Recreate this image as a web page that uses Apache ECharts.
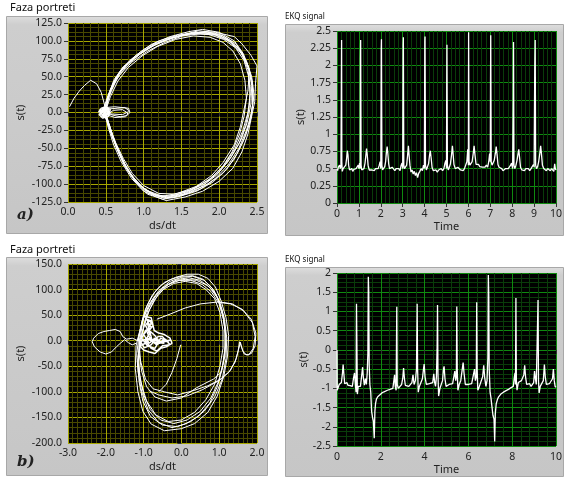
<!DOCTYPE html>
<html><head><meta charset="utf-8">
<script src="https://cdn.jsdelivr.net/npm/echarts@6/dist/echarts.min.js"></script>
<style>html,body{margin:0;padding:0;background:#fff;}#c{width:568px;height:478px;}</style>
</head><body><div id="c"></div>
<script>
// ---------- Panel a) phase portrait loops [ds/dt, s(t)] ----------
const phaseA1 = [[0.02,8],[0.08,20],[0.15,30],[0.22,38],[0.3,45],[0.38,40],[0.44,28],[0.48,12],[0.5,2],[0.53,18],[0.58,36],[0.68,56],[0.82,73],[1.0,88],[1.2,100],[1.45,108],[1.7,112],[1.9,110],[2.1,103],[2.25,90],[2.36,72],[2.43,50],[2.46,25],[2.43,0],[2.36,-25],[2.26,-50],[2.12,-73],[1.95,-92],[1.75,-107],[1.5,-116],[1.28,-120],[1.05,-112],[0.88,-95],[0.74,-72],[0.64,-48],[0.56,-25],[0.5,-5]];
const phaseA2 = [[0.5,-5],[0.48,3],[0.55,5],[0.65,6],[0.75,7],[0.8,3],[0.78,-4],[0.7,-6],[0.6,-4],[0.5,0],[0.52,20],[0.6,42],[0.72,62],[0.9,80],[1.1,95],[1.35,106],[1.6,113],[1.78,116],[2.0,112],[2.2,100],[2.32,82],[2.4,60],[2.38,30],[2.33,5],[2.28,-20],[2.2,-45],[2.05,-70],[1.9,-88],[1.7,-103],[1.45,-113],[1.25,-117],[1.02,-108],[0.85,-90],[0.72,-68],[0.62,-42],[0.55,-18],[0.47,-2]];
const phaseA3 = [[0.47,-2],[0.42,4],[0.44,-6],[0.52,-3],[0.6,3],[0.72,4],[0.78,0],[0.72,-3],[0.56,-2],[0.5,8],[0.55,28],[0.63,48],[0.76,66],[0.95,82],[1.15,96],[1.4,105],[1.65,111],[1.85,112],[2.05,107],[2.22,96],[2.32,80],[2.4,58],[2.44,35],[2.44,10],[2.4,-15],[2.32,-40],[2.2,-65],[2.05,-85],[1.85,-100],[1.6,-112],[1.38,-119],[1.18,-117],[0.98,-104],[0.82,-85],[0.7,-62],[0.6,-38],[0.52,-14],[0.46,2]];
const phaseA4 = [[0.46,2],[0.5,15],[0.56,32],[0.66,52],[0.8,70],[1.0,86],[1.25,100],[1.5,108],[1.72,114],[1.95,112],[2.2,106],[2.3,96],[2.42,80],[2.5,65],[2.48,40],[2.47,15],[2.42,-10],[2.38,-30],[2.3,-55],[2.18,-78],[2.0,-96],[1.78,-110],[1.55,-118],[1.3,-123],[1.22,-120],[1.0,-110],[0.84,-92],[0.7,-68],[0.6,-44],[0.53,-20],[0.49,0]];
const phaseA5 = [[0.49,0],[0.56,22],[0.66,44],[0.8,63],[0.98,79],[1.18,92],[1.42,102],[1.66,107],[1.88,105],[2.05,98],[2.18,86],[2.28,68],[2.34,45],[2.36,20],[2.33,-5],[2.27,-30],[2.17,-55],[2.03,-78],[1.85,-95],[1.62,-108],[1.4,-114],[1.2,-113],[1.0,-102],[0.85,-85],[0.73,-64],[0.63,-42],[0.55,-20],[0.5,-3]];
const phaseA6 = [[0.5,-3],[0.45,5],[0.5,7],[0.62,8],[0.8,6],[0.82,0],[0.76,-6],[0.62,-7],[0.48,-2],[0.5,12],[0.57,32],[0.68,52],[0.84,70],[1.04,85],[1.28,98],[1.52,107],[1.75,110],[1.95,108],[2.12,100],[2.27,86],[2.38,66],[2.44,42],[2.45,18],[2.42,-8],[2.35,-32],[2.24,-57],[2.1,-79],[1.92,-97],[1.7,-110],[1.45,-118],[1.25,-121],[1.05,-114],[0.9,-98],[0.76,-76],[0.65,-52],[0.57,-28],[0.5,-6]];
const phaseA7 = [[0.5,-6],[0.43,-3],[0.42,3],[0.46,6],[0.55,2],[0.5,10],[0.54,26],[0.61,46],[0.73,64],[0.9,78],[1.1,92],[1.32,103],[1.58,110],[1.82,113],[2.02,109],[2.17,99],[2.3,84],[2.39,62],[2.43,38],[2.42,12],[2.37,-14],[2.29,-38],[2.16,-62],[2.0,-83],[1.8,-100],[1.57,-111],[1.35,-117],[1.14,-115],[0.95,-102],[0.8,-82],[0.68,-58],[0.58,-32],[0.52,-10],[0.5,0]];
const phaseA8 = [[0.5,0],[0.53,22],[0.6,40],[0.7,58],[0.86,75],[1.06,90],[1.3,101],[1.55,109],[1.8,111],[2.0,108],[2.16,98],[2.3,82],[2.38,60],[2.41,36],[2.4,10],[2.35,-18],[2.26,-44],[2.12,-68],[1.96,-88],[1.76,-104],[1.52,-114],[1.3,-119],[1.1,-113],[0.92,-99],[0.78,-78],[0.67,-54],[0.58,-30],[0.52,-8],[0.48,0]];
const phaseA9 = [[0.48,0],[0.55,24],[0.64,46],[0.78,66],[0.96,82],[1.16,95],[1.4,105],[1.64,110],[1.86,109],[2.06,102],[2.22,90],[2.33,72],[2.39,50],[2.41,26],[2.38,0],[2.31,-26],[2.21,-50],[2.07,-73],[1.89,-92],[1.67,-106],[1.44,-115],[1.24,-118],[1.04,-110],[0.87,-92],[0.74,-70],[0.64,-46],[0.56,-22],[0.5,-2]];
const phaseABlob = [[0.4,0],[0.44,6],[0.5,8],[0.56,4],[0.54,-5],[0.46,-8],[0.41,-3],[0.45,2],[0.52,5],[0.55,0],[0.5,-4],[0.44,-2],[0.48,3],[0.53,1],[0.47,-6],[0.42,2],[0.49,6],[0.55,-3],[0.45,-4],[0.5,1]];

// ---------- Panel b) phase portrait loops ----------
const phaseB1 = [[-1.05,35],[-0.95,62],[-0.78,88],[-0.55,108],[-0.28,120],[0.0,126],[0.3,127],[0.58,120],[0.8,104],[0.98,80],[1.1,50],[1.16,15],[1.15,-20],[1.08,-55],[0.95,-90],[0.75,-122],[0.45,-148],[0.1,-163],[-0.25,-170],[-0.6,-160],[-0.88,-135],[-1.05,-100],[-1.15,-60],[-1.18,-25],[-1.12,10],[-1.05,35]];
const phaseB2 = [[-1.05,35],[-0.9,70],[-0.7,96],[-0.45,114],[-0.15,124],[0.15,130],[0.45,130],[0.7,122],[0.9,105],[1.05,78],[1.18,45],[1.25,10],[1.22,-30],[1.12,-70],[0.95,-108],[0.7,-140],[0.35,-162],[0.0,-172],[-0.45,-176],[-0.8,-163],[-1.02,-138],[-1.15,-100],[-1.22,-55],[-1.2,-10],[-1.1,20]];
const phaseB3 = [[-1.1,20],[-0.95,55],[-0.75,82],[-0.5,103],[-0.2,116],[0.1,120],[0.4,118],[0.7,108],[0.92,90],[1.0,75],[1.3,72],[1.6,62],[1.85,42],[1.97,15],[1.95,-10],[1.85,-25],[1.72,-28],[1.62,-20],[1.56,-3],[1.52,-15],[1.45,-35],[1.3,-58],[1.05,-75],[0.7,-88],[0.3,-98],[-0.1,-106],[-0.45,-100],[-0.75,-94],[-0.95,-75],[-1.08,-40],[-1.12,-5],[-1.0,25]];
const phaseB4 = [[-1.0,25],[-0.85,60],[-0.62,90],[-0.35,110],[-0.05,118],[0.25,118],[0.55,110],[0.8,95],[1.0,72],[1.12,40],[1.18,5],[1.15,-30],[1.05,-62],[0.85,-75],[0.4,-92],[0.0,-112],[-0.4,-118],[-0.7,-110],[-0.92,-90],[-1.05,-60],[-1.12,-25],[-1.05,10]];
const phaseB5 = [[-1.05,10],[-0.92,48],[-0.72,80],[-0.48,100],[-0.2,112],[0.1,116],[0.4,112],[0.65,100],[0.88,82],[1.02,55],[1.1,20],[1.1,-15],[1.02,-50],[0.88,-85],[0.65,-115],[0.35,-140],[0.0,-155],[-0.35,-158],[-0.68,-145],[-0.92,-118],[-1.08,-80],[-1.15,-40],[-1.1,0]];
const phaseB6 = [[-1.1,0],[-1.02,40],[-0.85,72],[-0.6,98],[-0.3,116],[0.0,124],[0.3,126],[0.6,118],[0.85,100],[1.02,75],[1.14,42],[1.2,5],[1.18,-35],[1.08,-75],[0.88,-110],[0.6,-138],[0.25,-158],[-0.1,-168],[-0.5,-165],[-0.82,-148],[-1.02,-118],[-1.12,-80],[-1.15,-40],[-1.08,-5]];
const phaseB7 = [[-0.65,42],[-0.3,52],[0.1,64],[0.5,72],[1.0,76],[1.35,72],[1.65,58],[1.88,35],[1.95,8],[1.9,-15],[1.78,-28],[1.66,-26],[1.58,-10],[1.54,-2],[1.5,-20],[1.42,-42],[1.25,-62],[0.95,-80],[0.55,-96],[0.15,-108],[-0.25,-112],[-0.6,-106],[-0.85,-98]];
const phaseB8 = [[-1.08,-5],[-1.0,30],[-0.88,62],[-0.68,88],[-0.4,108],[-0.1,120],[0.2,123],[0.5,118],[0.75,104],[0.95,84],[1.08,58],[1.15,25],[1.16,-10],[1.1,-45],[0.98,-80],[0.78,-112],[0.5,-138],[0.15,-155],[-0.2,-162],[-0.55,-155],[-0.82,-135],[-1.0,-105],[-1.1,-68],[-1.14,-30],[-1.1,5]];
const phaseBBlob = [[-1.15,0],[-1.0,48],[-0.8,45],[-0.72,20],[-0.6,15],[-0.45,12],[-0.3,5],[-0.25,-5],[-0.4,-12],[-0.55,-15],[-0.7,-25],[-0.85,-22],[-1.0,-18],[-1.1,-10],[-0.95,-5],[-0.8,8],[-0.95,30],[-0.85,40],[-0.75,30],[-0.9,15],[-0.8,0],[-0.65,-8],[-0.5,0],[-0.35,-2],[-0.55,5],[-0.7,-15],[-0.9,-10],[-1.05,5],[-0.95,20],[-0.8,25],[-0.92,42],[-0.78,38],[-0.88,22],[-1.0,12],[-0.85,-5],[-0.7,5],[-0.58,-5],[-0.42,3],[-0.3,-8],[-0.5,-10],[-0.65,-20],[-0.8,-15],[-0.95,0],[-0.82,18],[-0.7,10],[-0.6,0],[-0.45,-5],[-0.75,-3],[-0.9,5],[-1.08,-2],[-0.98,-14],[-0.8,-8],[-0.62,8],[-0.5,8],[-0.38,-2],[-0.28,2],[-0.52,-3],[-0.78,2],[-0.9,35],[-0.82,30]];
const phaseBTail = [[-1.15,0],[-1.3,5],[-1.45,3],[-1.55,8],[-1.62,18],[-1.75,22],[-1.9,20],[-2.05,18],[-2.2,14],[-2.32,5],[-2.36,-2],[-2.3,-12],[-2.15,-22],[-2.0,-26],[-1.85,-22],[-1.72,-12],[-1.6,-4],[-1.5,2],[-1.4,-4],[-1.3,-8],[-1.2,-5]];
const phaseBLine = [[-0.02,-8],[-0.12,-35],[-0.25,-62],[-0.4,-85],[-0.6,-100]];

// ---------- EKQ signal (top) [time, s(t)] ----------
const ekgTop = [[0,0.5],[0.03,0.47],[0.06,0.52],[0.09,0.5],[0.12,0.55],[0.15,0.5],[0.18,0.53],[0.2,1.85],[0.21,2.37],[0.22,0.6],[0.24,0.46],[0.28,0.5],[0.32,0.52],[0.36,0.5],[0.4,0.55],[0.44,0.65],[0.47,0.76],[0.5,0.7],[0.53,0.55],[0.57,0.48],[0.62,0.47],[0.67,0.5],[0.72,0.46],[0.77,0.49],[0.82,0.47],[0.87,0.5],[0.92,0.48],[0.97,0.55],[1.0,0.5],[1.03,0.58],[1.06,0.5],[1.07,2.1],[1.08,2.37],[1.1,0.55],[1.13,0.48],[1.18,0.5],[1.23,0.5],[1.28,0.58],[1.32,0.7],[1.35,0.79],[1.38,0.7],[1.42,0.55],[1.47,0.48],[1.52,0.5],[1.58,0.48],[1.64,0.5],[1.7,0.47],[1.76,0.5],[1.82,0.48],[1.88,0.5],[1.93,0.55],[1.97,0.6],[2.0,0.5],[2.02,2.25],[2.03,2.38],[2.05,0.55],[2.08,0.48],[2.13,0.5],[2.18,0.53],[2.22,0.6],[2.26,0.75],[2.29,0.82],[2.32,0.72],[2.36,0.57],[2.4,0.5],[2.46,0.48],[2.52,0.52],[2.58,0.5],[2.64,0.47],[2.7,0.5],[2.76,0.52],[2.82,0.5],[2.88,0.47],[2.93,0.55],[2.97,0.58],[3.0,0.5],[3.02,2.3],[3.03,2.41],[3.05,0.55],[3.08,0.5],[3.13,0.52],[3.18,0.55],[3.22,0.68],[3.26,0.83],[3.29,0.7],[3.33,0.55],[3.38,0.45],[3.43,0.48],[3.48,0.42],[3.53,0.46],[3.58,0.4],[3.63,0.44],[3.68,0.37],[3.73,0.43],[3.78,0.46],[3.84,0.5],[3.9,0.47],[3.95,0.55],[3.99,0.5],[4.01,2.35],[4.02,2.42],[4.04,0.55],[4.08,0.48],[4.13,0.5],[4.18,0.57],[4.22,0.68],[4.26,0.76],[4.3,0.65],[4.34,0.52],[4.4,0.47],[4.46,0.46],[4.52,0.48],[4.58,0.45],[4.64,0.48],[4.7,0.46],[4.76,0.5],[4.82,0.47],[4.88,0.5],[4.93,0.58],[4.97,0.62],[5.0,0.5],[5.01,1.65],[5.02,2.3],[5.04,0.55],[5.08,0.48],[5.13,0.52],[5.18,0.57],[5.23,0.7],[5.27,0.83],[5.3,0.72],[5.34,0.56],[5.4,0.5],[5.46,0.48],[5.52,0.52],[5.58,0.5],[5.64,0.48],[5.7,0.5],[5.76,0.47],[5.82,0.5],[5.88,0.52],[5.93,0.6],[5.97,0.78],[6.0,0.55],[6.005,1.68],[6.01,2.48],[6.03,0.6],[6.07,0.55],[6.12,0.56],[6.17,0.6],[6.22,0.72],[6.26,0.83],[6.3,0.7],[6.35,0.56],[6.4,0.54],[6.46,0.56],[6.52,0.53],[6.58,0.55],[6.64,0.52],[6.7,0.54],[6.76,0.52],[6.82,0.55],[6.88,0.52],[6.93,0.6],[6.97,0.72],[7.0,0.6],[7.01,1.75],[7.02,2.44],[7.04,0.6],[7.08,0.55],[7.13,0.56],[7.18,0.62],[7.23,0.72],[7.27,0.82],[7.31,0.7],[7.35,0.56],[7.4,0.52],[7.46,0.5],[7.52,0.5],[7.58,0.47],[7.64,0.48],[7.7,0.5],[7.76,0.48],[7.82,0.5],[7.88,0.52],[7.93,0.55],[7.97,0.58],[8.02,0.5],[8.05,1.55],[8.06,2.34],[8.08,0.55],[8.12,0.5],[8.17,0.55],[8.22,0.62],[8.27,0.72],[8.3,0.78],[8.34,0.65],[8.38,0.52],[8.44,0.48],[8.5,0.5],[8.56,0.47],[8.62,0.5],[8.68,0.48],[8.74,0.5],[8.8,0.47],[8.86,0.5],[8.92,0.48],[8.97,0.56],[9.0,0.52],[9.03,1.95],[9.05,2.37],[9.07,0.55],[9.11,0.5],[9.16,0.53],[9.21,0.6],[9.26,0.72],[9.3,0.83],[9.34,0.7],[9.38,0.55],[9.44,0.5],[9.5,0.48],[9.56,0.47],[9.62,0.5],[9.68,0.48],[9.74,0.47],[9.8,0.5],[9.86,0.49],[9.9,0.46],[9.94,0.57],[9.97,0.5],[10,0.48]];

// ---------- EKQ signal (bottom) ----------
const ekgBottom = [[0,0.0],[0.01,-1.05],[0.05,-1.0],[0.1,-0.9],[0.15,-0.95],[0.2,-0.85],[0.25,-0.6],[0.28,-0.38],[0.31,-0.6],[0.35,-0.88],[0.4,-0.9],[0.45,-0.85],[0.5,-0.92],[0.55,-0.88],[0.6,-0.93],[0.65,-0.9],[0.7,-0.95],[0.75,-0.75],[0.8,-0.6],[0.84,-0.9],[0.87,-1.1],[0.89,1.2],[0.91,1.15],[0.93,-1.15],[0.97,-0.95],[1.02,-0.92],[1.07,-0.95],[1.12,-0.7],[1.17,-0.45],[1.2,-0.7],[1.25,-0.92],[1.3,-0.75],[1.34,-0.9],[1.38,-0.6],[1.41,-0.1],[1.43,1.9],[1.45,1.5],[1.47,-0.4],[1.5,-0.9],[1.54,-1.1],[1.58,-1.6],[1.62,-1.75],[1.66,-1.85],[1.7,-2.3],[1.73,-1.6],[1.76,-1.4],[1.8,-1.28],[1.86,-1.22],[1.95,-1.17],[2.05,-1.12],[2.15,-1.09],[2.3,-1.05],[2.45,-1.02],[2.55,-1.0],[2.6,-0.95],[2.63,-0.65],[2.66,-0.95],[2.7,-1.05],[2.73,1.12],[2.75,-0.9],[2.8,-1.0],[2.85,-0.95],[2.95,-0.9],[3.0,-0.75],[3.04,-0.47],[3.08,-0.75],[3.12,-0.92],[3.2,-0.9],[3.28,-0.95],[3.35,-0.9],[3.42,-0.85],[3.47,-0.65],[3.52,-0.9],[3.58,-0.8],[3.63,-0.5],[3.66,1.2],[3.68,-0.5],[3.71,-1.1],[3.76,-0.95],[3.82,-0.9],[3.9,-0.75],[3.95,-0.5],[3.98,-0.37],[4.02,-0.7],[4.08,-0.9],[4.15,-0.95],[4.22,-0.88],[4.3,-0.92],[4.37,-0.85],[4.42,-0.62],[4.46,-0.85],[4.5,-0.95],[4.54,-0.7],[4.57,0.0],[4.59,1.17],[4.61,-0.6],[4.64,-1.2],[4.7,-1.0],[4.76,-0.95],[4.82,-0.8],[4.86,-0.5],[4.89,-0.43],[4.93,-0.75],[4.98,-0.95],[5.05,-0.92],[5.12,-0.9],[5.2,-0.95],[5.28,-0.88],[5.34,-0.85],[5.38,-0.55],[5.42,-0.8],[5.45,-0.7],[5.47,1.13],[5.49,-0.5],[5.52,-1.05],[5.58,-0.9],[5.65,-0.8],[5.72,-0.5],[5.76,-0.33],[5.8,-0.6],[5.86,-0.9],[5.93,-0.95],[6.0,-0.9],[6.08,-0.92],[6.15,-0.88],[6.22,-0.85],[6.28,-0.5],[6.32,-0.8],[6.36,-0.7],[6.38,1.24],[6.4,-0.5],[6.43,-1.05],[6.5,-0.95],[6.58,-0.9],[6.65,-0.7],[6.7,-0.4],[6.74,-0.7],[6.8,-0.95],[6.85,-0.8],[6.89,-0.2],[6.91,1.95],[6.93,1.4],[6.95,-0.5],[6.99,-1.1],[7.03,-1.25],[7.07,-1.45],[7.12,-1.7],[7.17,-1.8],[7.2,-2.38],[7.23,-1.65],[7.27,-1.4],[7.32,-1.3],[7.38,-1.22],[7.48,-1.15],[7.6,-1.1],[7.72,-1.06],[7.85,-1.02],[7.95,-0.98],[8.05,-0.95],[8.1,-0.7],[8.13,-0.6],[8.15,-0.9],[8.17,1.35],[8.19,-0.8],[8.22,-1.05],[8.28,-0.85],[8.35,-0.9],[8.42,-0.8],[8.48,-0.85],[8.53,-0.65],[8.57,-0.4],[8.61,-0.7],[8.66,-0.9],[8.72,-0.92],[8.8,-0.88],[8.86,-0.95],[8.92,-0.9],[8.98,-0.85],[9.02,-0.55],[9.06,-0.75],[9.1,-0.9],[9.15,-0.85],[9.18,1.3],[9.2,-0.8],[9.23,-1.12],[9.28,-0.95],[9.35,-0.9],[9.42,-0.8],[9.47,-0.38],[9.51,-0.7],[9.56,-0.9],[9.62,-0.92],[9.7,-0.88],[9.78,-0.93],[9.84,-0.75],[9.88,-0.5],[9.92,-0.8],[9.96,-0.95],[10,-0.97]];

// ---------- titles / labels ----------
const phaseTitle = 'Faza portreti';
const ekgTitle = 'EKQ signal';
const phaseXName = 'ds/dt', ekgXName = 'Time', yName = 's(t)';
const panelTags = ['a)', 'b)'];

const FONT = '"Noto Sans", "DejaVu Sans", sans-serif';
const YEL = '#a6a600', YEL_MINOR = '#484800';
const GRN = '#0f8a0f', GRN_MINOR = '#0a3c0a';

function axis(type, idx, o) {
  return Object.assign({
    type: 'value', gridIndex: idx,
    nameLocation: 'middle',
    nameTextStyle: { color: '#222', fontFamily: FONT, fontSize: 11 },
    axisLine: { show: false },
    axisTick: { show: true, length: 4, lineStyle: { color: '#333' } },
    axisLabel: { color: '#222', fontFamily: FONT, fontSize: 10.5, margin: 6, showMinLabel: true, showMaxLabel: true },
    splitLine: { show: true, lineStyle: { width: 1 } },
    minorTick: { show: false, splitNumber: 5 },
    minorSplitLine: { show: true, lineStyle: { width: 1 } }
  }, o);
}
function fix1(v) { return v.toFixed(1); }
function line(data, xi, yi, w) {
  return { type: 'line', data: data, xAxisIndex: xi, yAxisIndex: yi, showSymbol: false, symbol: 'none',
    smooth: false, animation: false, lineStyle: { color: '#ffffff', width: w || 1 }, silent: true };
}

const grids = [
  { left: 68, top: 23, width: 189, height: 179 },
  { left: 337, top: 31, width: 219, height: 172 },
  { left: 68, top: 264, width: 189, height: 179 },
  { left: 337, top: 273, width: 219, height: 173 }
].map(g => Object.assign(g, { show: true, backgroundColor: '#000', borderColor: '#000', borderWidth: 0, containLabel: false }));

const xAxes = [
  axis('x', 0, { min: 0, max: 2.5, interval: 0.5, name: phaseXName, nameGap: 18,
    axisLabel: { color: '#222', fontFamily: FONT, fontSize: 10.5, margin: 5, formatter: fix1 },
    splitLine: { lineStyle: { color: YEL } }, minorTick: { show: false, splitNumber: 5 }, minorSplitLine: { show: true, lineStyle: { color: YEL_MINOR } } }),
  axis('x', 1, { min: 0, max: 10, interval: 1, name: ekgXName, nameGap: 18,
    splitLine: { lineStyle: { color: GRN } }, minorTick: { show: false, splitNumber: 5 }, minorSplitLine: { show: true, lineStyle: { color: GRN_MINOR } } }),
  axis('x', 2, { min: -3, max: 2, interval: 1, name: phaseXName, nameGap: 18,
    axisLabel: { color: '#222', fontFamily: FONT, fontSize: 10.5, margin: 5, formatter: fix1 },
    splitLine: { lineStyle: { color: YEL } }, minorTick: { show: false, splitNumber: 8 }, minorSplitLine: { show: true, lineStyle: { color: YEL_MINOR } } }),
  axis('x', 3, { min: 0, max: 10, interval: 2, name: ekgXName, nameGap: 18,
    splitLine: { lineStyle: { color: GRN } }, minorTick: { show: false, splitNumber: 5 }, minorSplitLine: { show: true, lineStyle: { color: GRN_MINOR } } })
];
const yAxes = [
  axis('y', 0, { min: -125, max: 125, interval: 25, name: yName, nameGap: 42, nameRotate: 90,
    axisLabel: { color: '#222', fontFamily: FONT, fontSize: 10.5, margin: 6, formatter: fix1 },
    splitLine: { lineStyle: { color: YEL } }, minorTick: { show: false, splitNumber: 4 }, minorSplitLine: { show: true, lineStyle: { color: YEL_MINOR } } }),
  axis('y', 1, { min: 0, max: 2.5, interval: 0.25, name: yName, nameGap: 28, nameRotate: 90,
    splitLine: { lineStyle: { color: GRN } }, minorSplitLine: { show: false } }),
  axis('y', 2, { min: -200, max: 150, interval: 50, name: yName, nameGap: 42, nameRotate: 90,
    axisLabel: { color: '#222', fontFamily: FONT, fontSize: 10.5, margin: 6, formatter: fix1 },
    splitLine: { lineStyle: { color: YEL } }, minorTick: { show: false, splitNumber: 5 }, minorSplitLine: { show: true, lineStyle: { color: YEL_MINOR } } }),
  axis('y', 3, { min: -2.5, max: 2, interval: 0.5, name: yName, nameGap: 26, nameRotate: 90,
    splitLine: { lineStyle: { color: GRN } }, minorTick: { show: false, splitNumber: 4 }, minorSplitLine: { show: true, lineStyle: { color: GRN_MINOR } } })
];

const series = [
  line(phaseA1,0,0), line(phaseA2,0,0), line(phaseA3,0,0), line(phaseA4,0,0), line(phaseA5,0,0), line(phaseA6,0,0), line(phaseA7,0,0), line(phaseA8,0,0), line(phaseA9,0,0), line(phaseABlob,0,0,1.3),
  line(ekgTop,1,1,1.3),
  line(phaseB1,2,2), line(phaseB2,2,2), line(phaseB3,2,2), line(phaseB4,2,2), line(phaseB5,2,2), line(phaseB6,2,2), line(phaseB7,2,2), line(phaseB8,2,2), line(phaseBBlob,2,2,1.5), line(phaseBTail,2,2), line(phaseBLine,2,2),
  line(ekgBottom,3,3,1.3)
];

function frame(x, y, w, h) {
  return { type: 'rect', z: -10, shape: { x: x, y: y, width: w, height: h },
    style: { fill: { type: 'linear', x: 0, y: 0, x2: 0, y2: 1, colorStops: [{ offset: 0, color: '#dedede' }, { offset: 0.04, color: '#cecece' }, { offset: 1, color: '#c6c6c6' }] },
      stroke: '#a8a8a8', lineWidth: 1 } };
}
function txt(x, y, s, size, extra) {
  return { type: 'text', z: 10, x: x, y: y, style: Object.assign({ text: s, fill: '#111', font: size + 'px ' + FONT, textVerticalAlign: 'middle' }, extra || {}) };
}
const graphic = [
  frame(6.5, 16.5, 261, 217), frame(285.5, 24.5, 278, 211), frame(6.5, 257.5, 261, 218), frame(285.5, 267.5, 278, 209),
  txt(10, 8, phaseTitle, 11), txt(285, 17, ekgTitle, 8),
  txt(10, 250, phaseTitle, 11), txt(285, 260, ekgTitle, 8),
  txt(17, 215, panelTags[0], 15, { font: 'italic bold 15px "DejaVu Serif", "Liberation Serif", serif', fill: '#222' }),
  txt(17, 462, panelTags[1], 15, { font: 'italic bold 15px "DejaVu Serif", "Liberation Serif", serif', fill: '#222' })
];

const chart = echarts.init(document.getElementById('c'), null, { renderer: 'canvas' });
chart.setOption({ animation: false, backgroundColor: '#fff', grid: grids, xAxis: xAxes, yAxis: yAxes, series: series, graphic: graphic });
</script></body></html>
